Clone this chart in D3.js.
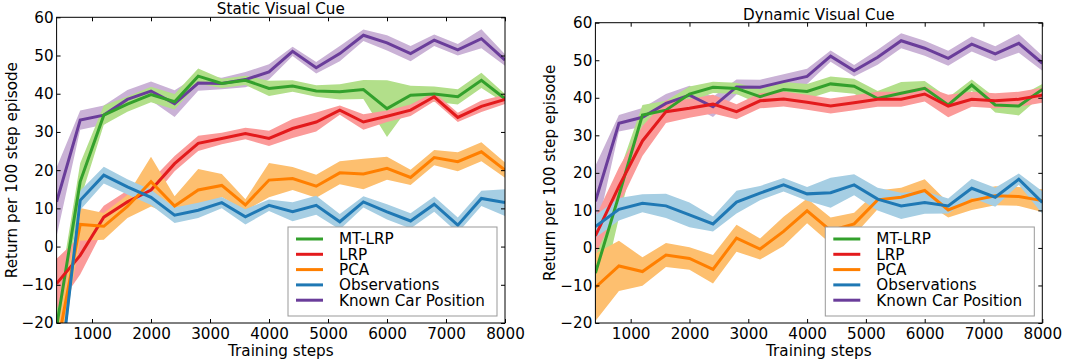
<!DOCTYPE html>
<html>
<head>
<meta charset="utf-8">
<script src="https://cdn.jsdelivr.net/npm/d3@7"></script>
<style>
  body { margin: 0; background: #fff; }
  svg text { font-family: "DejaVu Sans", sans-serif; fill: #000; }
</style>
</head>
<body>
<div id="chart"></div>
<script>
// training steps (x values, shared by both panels)
var steps = [400, 800, 1200, 1600, 2000, 2400, 2800, 3200, 3600, 4000,
             4400, 4800, 5200, 5600, 6000, 6400, 6800, 7200, 7600, 8000];

var seriesNames = ["MT-LRP", "LRP", "PCA", "Observations", "Known Car Position"];

// static visual cue: means and half-widths of the shaded bands
var staticMtlrp = [-21, 17, 34.4, 37.3, 39.8, 37.9, 44.6, 42.7, 43.5, 41.4, 42, 40.7, 40.5, 41.1, 36.1, 39.6, 39.9, 39.2, 43.5, 38.7];
var staticMtlrpErr = [5, 4.8, 2.5, 2, 2, 2, 2, 1.2, 1.2, 2, 1.5, 1.5, 2, 2.5, 7.4, 2.5, 2, 2, 2, 1.2];
var staticLrp = [-9.7, -2.3, 7.7, 11.7, 14.8, 21.7, 27, 28.3, 29.6, 28.3, 30.9, 32.6, 35.7, 32.6, 34.1, 35.7, 39.2, 33.8, 36.7, 38.5];
var staticLrpErr = [6.5, 5, 3, 3, 2.5, 2, 2, 1.5, 1.5, 2, 2.5, 2.5, 1.2, 2, 1.5, 1.5, 1.2, 1.2, 1.5, 1.2];
var staticPca = [-27, 5.8, 5.3, 10.5, 17, 10.6, 14.8, 16, 10.9, 17.4, 17.8, 15.8, 19.3, 19, 20.5, 18.1, 23.3, 22.2, 24.8, 20];
var staticPcaErr = [5, 4.3, 3.5, 3, 6.5, 2.6, 5.5, 3, 1.5, 4.5, 3, 3, 3, 4, 3, 2, 2, 2.5, 2.5, 2];
var staticObs = [-41, 12.1, 18.7, 15.6, 12.9, 8.2, 9.5, 11.5, 7.8, 10.8, 9.1, 10.8, 6.5, 11.7, 9.1, 6.7, 11.1, 5.6, 12.6, 11.5];
var staticObsErr = [3, 2.5, 2.2, 2, 2, 2, 2, 1.5, 2, 1.5, 2.5, 2.5, 2, 1.5, 2, 2, 2, 2, 2, 3.5];
var staticKnown = [11.7, 33.1, 34.4, 38.5, 40.7, 37.4, 42.8, 42.7, 43.7, 45.7, 51.1, 46.8, 50.5, 55.3, 53.3, 50.5, 54, 51.5, 54.4, 48.8];
var staticKnownErr = [9, 2.5, 2.5, 2.5, 2.5, 3.5, 2, 1.5, 2, 2, 1.2, 1.5, 2, 1.5, 2, 2, 1.5, 1.5, 2.5, 1.5];

// dynamic visual cue
var dynMtlrp = [-6.7, 14, 35.4, 36.7, 41, 42.8, 42.5, 40.3, 42.2, 41.7, 43.7, 43.1, 39.8, 41.2, 42.5, 38.1, 43.4, 38.1, 37.8, 42.2];
var dynMtlrpErr = [12, 6, 2.7, 2.5, 2, 1.5, 1.5, 2, 2, 2, 2, 2, 2, 3, 2, 2, 1.5, 2, 2.5, 1.5];
var dynLrp = [3.2, 16.4, 28.5, 36.3, 37.2, 38.3, 36.3, 39.2, 39.7, 38.8, 37.8, 38.7, 39.6, 39.6, 41, 37.8, 39.6, 39.2, 39.6, 40.7];
var dynLrpErr = [5, 5, 4, 3, 2.5, 2.5, 2, 2, 2, 2, 2, 2, 2, 2, 2, 3, 2, 2, 2, 2];
var dynPca = [-10.5, -4.8, -6.3, -1.9, -2.8, -5.7, 2.6, -0.3, 4.4, 9.9, 4.6, 6.4, 12.8, 13.5, 15.3, 10.1, 12.6, 13.9, 13.7, 12.6];
var dynPcaErr = [9, 6.7, 3.8, 3.2, 3, 3.8, 3.6, 2.8, 3.9, 3.3, 3.5, 3, 2.5, 2.5, 3, 2, 2.5, 2.5, 2.5, 3];
var dynObs = [5.7, 10.3, 11.9, 11.2, 8.8, 6.4, 12.2, 14.6, 16.8, 14.4, 14.7, 16.8, 13, 11.2, 12.1, 11.2, 15.9, 13.5, 18.3, 12.1];
var dynObsErr = [3, 3, 2.4, 3.2, 3.3, 2, 3, 1.9, 1.8, 1.8, 4, 2.8, 3, 3.5, 3, 2, 2.5, 2.5, 1.5, 3];
var dynKnown = [12.4, 33.2, 34.8, 38.5, 40.7, 37.6, 42.9, 42.8, 44.3, 45.7, 51.1, 47.2, 50.8, 55.2, 53.2, 50.5, 54.3, 51.7, 54.5, 49.2];
var dynKnownErr = [9.5, 2.2, 2.5, 2.5, 2.5, 2.7, 2, 2, 2, 2, 1.5, 1.5, 2, 2, 2, 2, 2, 2, 2.5, 2];

var xTicks = [1000, 2000, 3000, 4000, 5000, 6000, 7000, 8000];
var yTicks = [-20, -10, 0, 10, 20, 30, 40, 50, 60];

// line colour / band colour per series (same order as seriesNames)
var lineColors = ["#33a02c", "#e31a1c", "#ff7f00", "#1f78b4", "#6a3d9a"];
var bandColors = ["#b2df8a", "#fb9a99", "#fdbf6f", "#a6cee3", "#cab2d6"];

var fontSize = 15.2;

var svg = d3.select("#chart")
  .append("svg")
  .attr("width", 1065)
  .attr("height", 360);

function drawPanel(opts) {
  var x = d3.scaleLinear().domain([400, 8000]).range([opts.left, opts.right]);
  var y = d3.scaleLinear().domain([-20, 60]).range([opts.bottom, opts.top]);

  var g = svg.append("g");

  g.append("clipPath")
    .attr("id", opts.id)
    .append("rect")
    .attr("x", opts.left).attr("y", opts.top)
    .attr("width", opts.right - opts.left)
    .attr("height", opts.bottom - opts.top);

  var plot = g.append("g").attr("clip-path", `url(#${opts.id})`);

  var area = d3.area()
    .x(d => x(d.s))
    .y0(d => y(d.v - d.e))
    .y1(d => y(d.v + d.e));

  var line = d3.line()
    .x(d => x(d.s))
    .y(d => y(d.v));

  var rows = opts.series.map(function(s) {
    return steps.map((st, i) => ({ s: st, v: s.mean[i], e: s.err[i] }));
  });

  // bands first, drawn back to front
  var order = [4, 0, 1, 2, 3];
  order.forEach(function(k) {
    plot.append("path")
      .datum(rows[k])
      .attr("d", area)
      .attr("fill", bandColors[k])
      .attr("stroke", "none");
  });
  order.forEach(function(k) {
    plot.append("path")
      .datum(rows[k])
      .attr("d", line)
      .attr("fill", "none")
      .attr("stroke", lineColors[k])
      .attr("stroke-width", 3)
      .attr("stroke-linejoin", "miter");
  });

  // axes, ticks pointing in on all four sides
  var bottomAxis = d3.axisBottom(x).tickValues(xTicks).tickFormat(d3.format("d"))
    .tickSizeInner(-4).tickSizeOuter(0).tickPadding(5);
  var topAxis = d3.axisTop(x).tickValues(xTicks).tickFormat("")
    .tickSizeInner(-4).tickSizeOuter(0);
  var leftAxis = d3.axisLeft(y).tickValues(yTicks).tickFormat(d3.format("d"))
    .tickSizeInner(-4).tickSizeOuter(0).tickPadding(3);
  var rightAxis = d3.axisRight(y).tickValues(yTicks).tickFormat("")
    .tickSizeInner(-4).tickSizeOuter(0);

  var axes = [
    g.append("g").attr("transform", `translate(0,${opts.bottom})`).call(bottomAxis),
    g.append("g").attr("transform", `translate(0,${opts.top})`).call(topAxis),
    g.append("g").attr("transform", `translate(${opts.left},0)`).call(leftAxis),
    g.append("g").attr("transform", `translate(${opts.right},0)`).call(rightAxis)
  ];
  axes.forEach(function(a) {
    a.select(".domain").remove();
    a.selectAll("line").attr("stroke", "#000");
    a.selectAll("text").attr("font-size", fontSize).attr("font-family", "DejaVu Sans");
  });

  g.append("rect")
    .attr("x", opts.left).attr("y", opts.top)
    .attr("width", opts.right - opts.left)
    .attr("height", opts.bottom - opts.top)
    .attr("fill", "none")
    .attr("stroke", "#000")
    .attr("stroke-width", 1);

  // title and axis labels
  g.append("text")
    .attr("x", (opts.left + opts.right) / 2)
    .attr("y", opts.top - 3)
    .attr("text-anchor", "middle")
    .attr("font-size", fontSize)
    .text(opts.title);

  g.append("text")
    .attr("x", (opts.left + opts.right) / 2)
    .attr("y", 355.5)
    .attr("text-anchor", "middle")
    .attr("font-size", fontSize)
    .text("Training steps");

  g.append("text")
    .attr("transform", `translate(${opts.left - 40},${(opts.top + opts.bottom) / 2}) rotate(-90)`)
    .attr("text-anchor", "middle")
    .attr("font-size", fontSize)
    .text("Return per 100 step episode");

  // legend in the lower right
  var lw = 209, lh = 89;
  var lx = opts.right - 8 - lw, ly = opts.bottom - 7 - lh;
  var legend = g.append("g").attr("transform", `translate(${lx},${ly})`);
  legend.append("rect")
    .attr("x", 0).attr("y", 0)
    .attr("width", lw).attr("height", lh)
    .attr("fill", "#fff")
    .attr("stroke", "#999")
    .attr("stroke-width", 1);
  seriesNames.forEach(function(name, i) {
    var ry = 12 + i * 15.3;
    legend.append("line")
      .attr("x1", 8).attr("x2", 35)
      .attr("y1", ry).attr("y2", ry)
      .attr("stroke", lineColors[i])
      .attr("stroke-width", 3);
    legend.append("text")
      .attr("x", 51).attr("y", ry)
      .attr("dy", "0.36em")
      .attr("font-size", 15.2)
      .text(name);
  });
}

drawPanel({
  id: "clipStatic",
  title: "Static Visual Cue",
  left: 56.6, right: 505, top: 17.3, bottom: 323,
  series: [
    { mean: staticMtlrp, err: staticMtlrpErr },
    { mean: staticLrp, err: staticLrpErr },
    { mean: staticPca, err: staticPcaErr },
    { mean: staticObs, err: staticObsErr },
    { mean: staticKnown, err: staticKnownErr }
  ]
});

drawPanel({
  id: "clipDynamic",
  title: "Dynamic Visual Cue",
  left: 595.4, right: 1042.3, top: 22.7, bottom: 323,
  series: [
    { mean: dynMtlrp, err: dynMtlrpErr },
    { mean: dynLrp, err: dynLrpErr },
    { mean: dynPca, err: dynPcaErr },
    { mean: dynObs, err: dynObsErr },
    { mean: dynKnown, err: dynKnownErr }
  ]
});
</script>
</body>
</html>
